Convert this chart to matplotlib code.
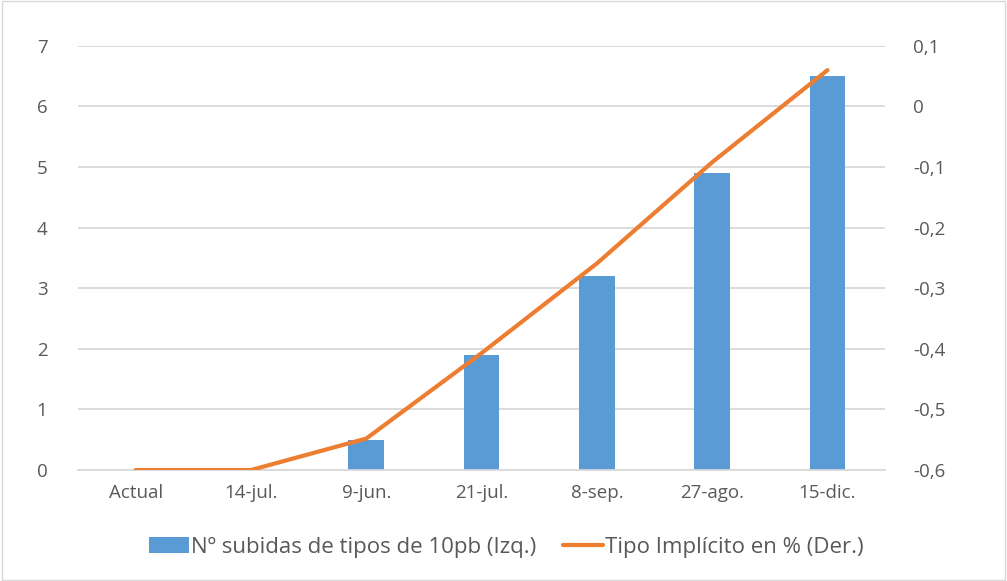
import matplotlib.pyplot as plt
from matplotlib.ticker import FuncFormatter
from matplotlib.patches import Patch
from matplotlib.lines import Line2D

categories = ['Actual', '14-jul.', '9-jun.', '21-jul.', '8-sep.', '27-ago.', '15-dic.']
subidas = [0, 0, 0.5, 1.9, 3.2, 4.9, 6.5]
tipo_implicito = [-0.6, -0.6, -0.548, -0.407, -0.259, -0.092, 0.06]

label_bar = 'Nº subidas de tipos de 10pb (Izq.)'
label_line = 'Tipo Implícito en % (Der.)'

plt.rcParams['font.family'] = ['Open Sans', 'DejaVu Sans']
blue = '#5B9BD5'
orange = '#ED7D31'
text_col = '#595959'
grid_col = '#D9D9D9'

fig = plt.figure(figsize=(10.07, 5.81), dpi=100)
ax = fig.add_axes([0.0775, 0.191, 0.8015, 0.730])
x = list(range(len(categories)))

ax.bar(x, subidas, width=0.31, color=blue, zorder=2)
ax.set_xlim(-0.5, len(categories) - 0.5)
ax.set_ylim(0, 7)
ax.set_yticks(range(0, 8))
ax.set_xticks(x)
ax.set_xticklabels(categories)
ax.grid(axis='y', color=grid_col, linewidth=1.3, zorder=0)
ax.set_axisbelow(True)
for s in ['top', 'right', 'left']:
    ax.spines[s].set_visible(False)
ax.spines['bottom'].set_color(grid_col)
ax.spines['bottom'].set_linewidth(1.3)
ax.tick_params(length=0, colors=text_col, labelsize=13.5)
ax.tick_params(axis='x', pad=10)
ax.tick_params(axis='y', pad=22)

ax2 = ax.twinx()
ax2.plot(x, tipo_implicito, color=orange, linewidth=3, solid_capstyle='round', zorder=3)
ax2.set_ylim(-0.6, 0.1)
ax2.set_yticks([-0.6, -0.5, -0.4, -0.3, -0.2, -0.1, 0, 0.1])
ax2.yaxis.set_major_formatter(FuncFormatter(
    lambda v, p: '0' if abs(v) < 1e-9 else f'{v:.1f}'.replace('.', ',')))
for s in ax2.spines.values():
    s.set_visible(False)
ax2.tick_params(length=0, colors=text_col, labelsize=13.5, pad=20)

handles = [Patch(facecolor=blue), Line2D([0], [0], color=orange, linewidth=3, solid_capstyle='round')]
leg = fig.legend(handles, [label_bar, label_line], loc='center', bbox_to_anchor=(0.503, 0.058),
                 ncol=2, frameon=False, fontsize=16, handlelength=1.8, handletextpad=0.1,
                 columnspacing=1.2)
for t in leg.get_texts():
    t.set_color(text_col)

border = plt.Rectangle((0.002, 0.002), 0.996, 0.996, transform=fig.transFigure,
                       fill=False, edgecolor=grid_col, linewidth=1)
fig.patches.append(border)

fig.savefig('out.png', dpi=100)
